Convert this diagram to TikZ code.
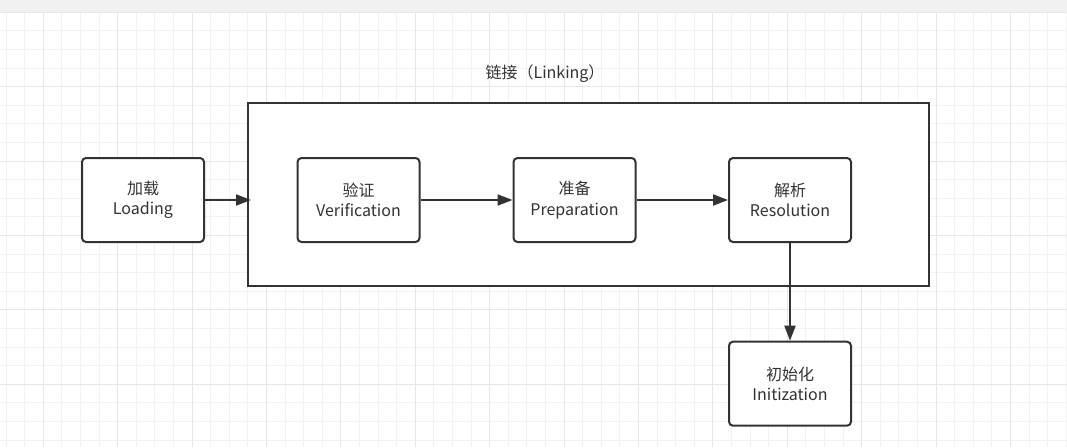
\documentclass[tikz,border=0pt]{standalone}
\usepackage{fontspec}
\newfontfamily\cjk{Noto Sans CJK SC}
\usetikzlibrary{arrows.meta}
\definecolor{ink}{HTML}{333333}
\definecolor{txt}{HTML}{333333}
\definecolor{gridminor}{HTML}{F2F2F2}
\definecolor{gridmajor}{HTML}{E6E6E6}
\definecolor{topbar}{HTML}{F1F1F1}
\tikzset{
  stepbox/.style={draw=ink, line width=2pt, rounded corners=4pt, fill=white,
    minimum width=122pt, minimum height=84pt, align=center, text=txt,
    font=\cjk\fontsize{16}{20.5}\selectfont, inner sep=0pt},
  framebox/.style={draw=ink, line width=2.5pt, fill=white,
    minimum width=681pt, minimum height=183pt, inner sep=0pt},
  titletext/.style={text=txt, font=\cjk\fontsize{16}{20.5}\selectfont, inner sep=0pt},
  conn/.style={draw=ink, line width=2pt, -{Triangle[length=15pt,width=11pt]}},
}
\begin{document}
\begin{tikzpicture}[x=1pt,y=-1pt]
\useasboundingbox (0,0) rectangle (1067,447);
\fill[white] (0,0) rectangle (1067,447);
% grid
\foreach \i in {0,...,57} \draw[gridminor, line width=1pt] ({6.1+18.6*\i},12) -- ++(0,435);
\foreach \j in {0,...,23} \draw[gridminor, line width=1pt] (0,{12.3+18.6*\j}) -- ++(1067,0);
\foreach \i in {0,...,13} \draw[gridmajor, line width=1pt] ({43.3+74.4*\i},12) -- ++(0,435);
\foreach \j in {0,...,5} \draw[gridmajor, line width=1pt] (0,{12.3+74.4*\j}) -- ++(1067,0);
\fill[topbar] (0,0) rectangle (1067,12);
% frame and title
\node[framebox] (frame) at (588.5,194.5) {};
\node[titletext] (title) at (545,74) {链接（Linking）};
% steps
\node[stepbox] (load) at (143,200) {加载\\Loading};
\node[stepbox] (verify) at (358.5,200) {验证\\Verification};
\node[stepbox] (prep) at (574.5,200) {准备\\Preparation};
\node[stepbox] (resol) at (790,200) {解析\\Resolution};
\node[stepbox] (init) at (790,383.7) {初始化\\Initization};
\coordinate (fin) at (251,200);
% connectors
\draw[conn] (load.east) -- (fin);
\draw[conn] (verify.east) -- (prep.west);
\draw[conn] (prep.east) -- (resol.west);
\draw[conn] (resol.south) -- (init.north);
\end{tikzpicture}
\end{document}
